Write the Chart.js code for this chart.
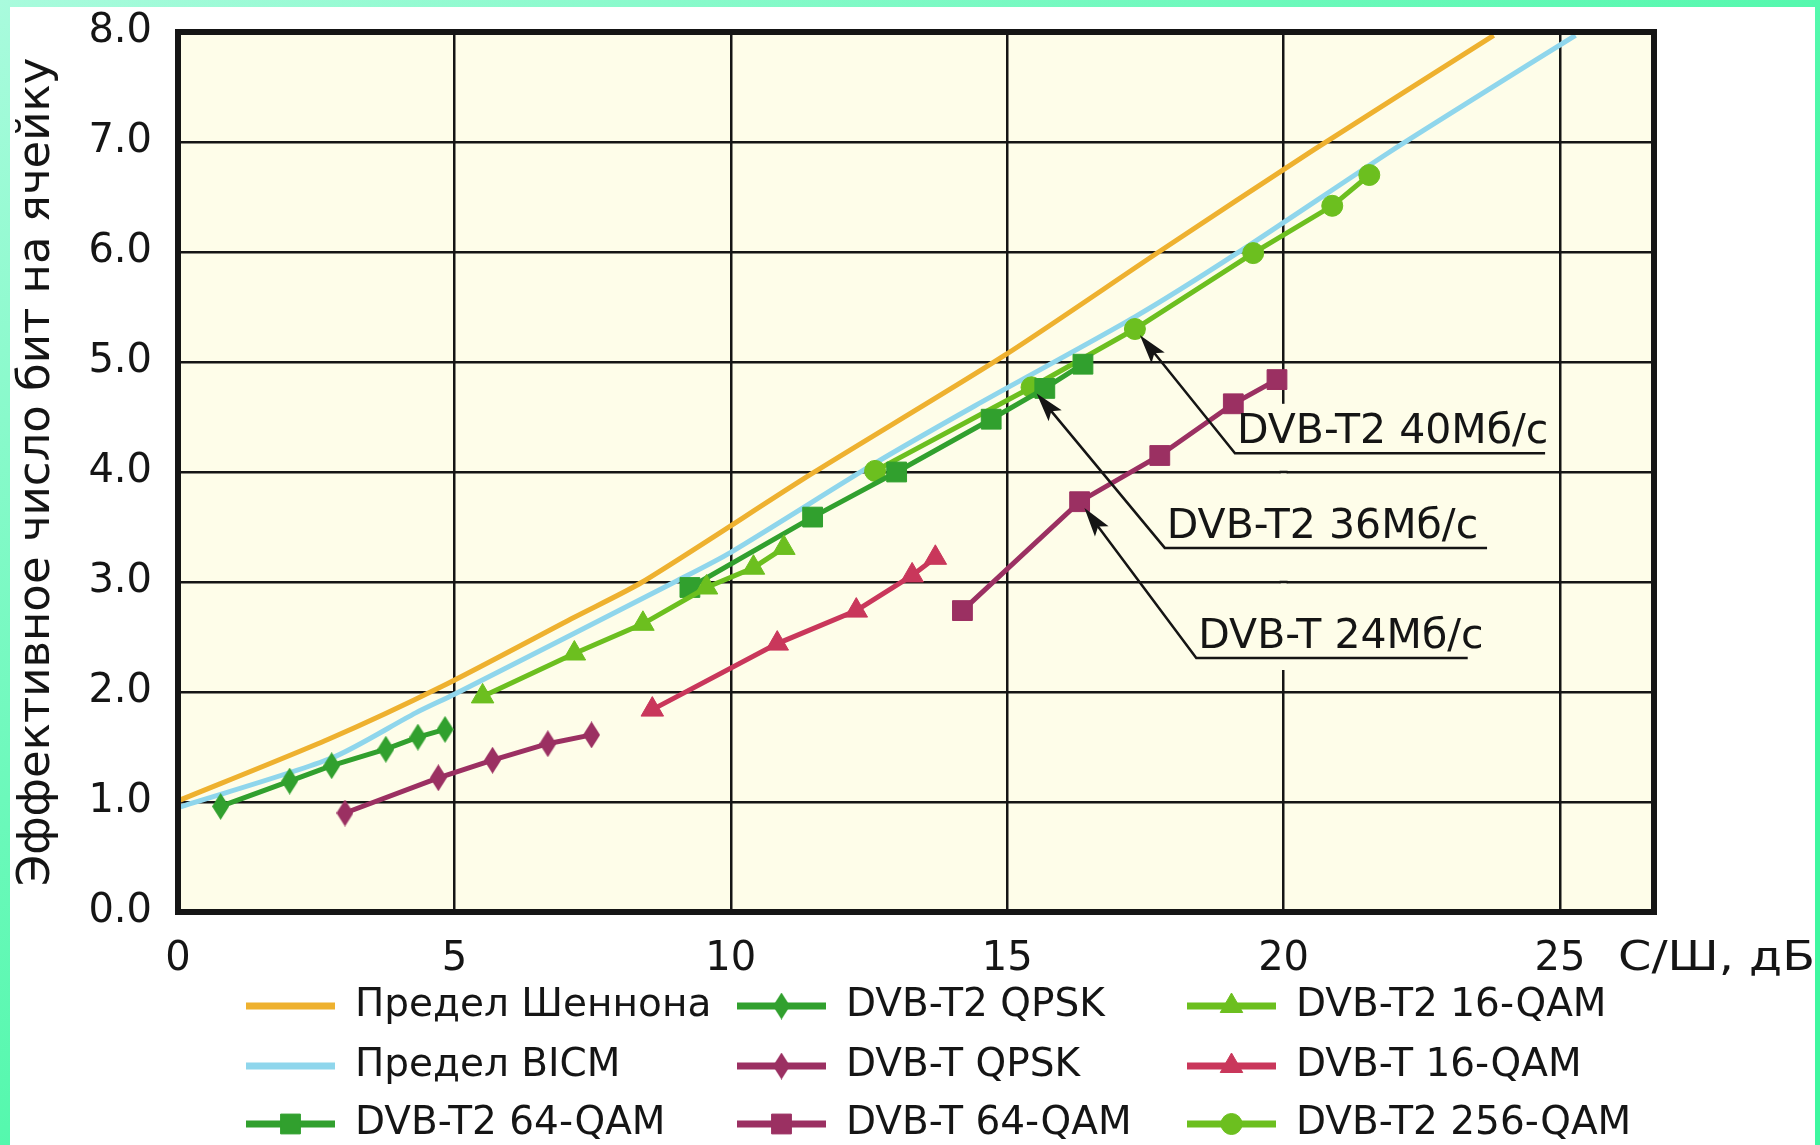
<!DOCTYPE html>
<html>
<head>
<meta charset="utf-8">
<script src="https://cdn.jsdelivr.net/npm/chart.js@4.4.1/dist/chart.umd.min.js"></script>
<style>
  html, body { margin: 0; padding: 0; }
  body {
    width: 1820px; height: 1145px; position: relative; overflow: hidden;
    background: linear-gradient(to bottom right, #a9fbdd 0%, #6cf9bb 35%, #3ef7a0 65%);
  }
  #panel { position: absolute; left: 10px; top: 7px; right: 5px; bottom: 0; background: #fff; }
  #chart { position: absolute; left: 0; top: 0; }
</style>
</head>
<body>
<div id="panel"></div>
<canvas id="chart" width="1820" height="1145"></canvas>
<script>
// values (x = С/Ш in dB, y = bits per cell)
var xTicks = [0, 5, 10, 15, 20, 25];
var yTicks = [0, 1, 2, 3, 4, 5, 6, 7, 8];

var shannonX = [0, 2.72, 4.77, 7.17, 8.4, 11.45, 14.95, 17.74, 20.55, 23.8];
var shannonY = [1.01, 1.57, 2.05, 2.68, 3.0, 3.98, 5.06, 6.0, 6.93, 7.97];
var bicmX = [0, 2.78, 4.3, 5, 9.02, 10, 12.61, 14.41, 17.31, 19.13, 21.89, 23.56, 25.28];
var bicmY = [0.95, 1.4, 1.81, 1.98, 3.01, 3.27, 4.08, 4.6, 5.41, 5.98, 6.9, 7.43, 7.97];
var t2QpskX = [0.77, 2.02, 2.78, 3.76, 4.34, 4.83];
var t2QpskY = [0.96, 1.19, 1.33, 1.48, 1.59, 1.66];
var tQpskX = [3.02, 4.71, 5.69, 6.69, 7.48];
var tQpskY = [0.9, 1.22, 1.38, 1.53, 1.61];
var t2Qam16X = [5.51, 7.17, 8.41, 9.56, 10.41, 10.96];
var t2Qam16Y = [1.96, 2.35, 2.62, 2.95, 3.13, 3.31];
var tQam16X = [8.58, 10.84, 12.27, 13.28, 13.7];
var tQam16Y = [1.84, 2.44, 2.74, 3.06, 3.22];
var t2Qam64X = [9.26, 11.48, 13.0, 14.71, 15.68, 16.37];
var t2Qam64Y = [2.95, 3.59, 4.0, 4.48, 4.76, 4.98];
var tQam64X = [14.19, 16.31, 17.76, 19.09, 19.88];
var tQam64Y = [2.74, 3.73, 4.15, 4.62, 4.84];
var t2Qam256X = [12.61, 15.44, 17.31, 19.45, 20.88, 21.55];
var t2Qam256Y = [4.01, 4.77, 5.3, 5.99, 6.42, 6.7];

var ink = '#151515';
var plotBg = '#fefde9';
var font = 'DejaVu Sans';

function pts(xs, ys) {
    return xs.map(function (x, i) { return { x: x, y: ys[i] }; });
}

// tall narrow diamond marker
function diamond(color, w, h) {
    var c = document.createElement('canvas');
    c.width = w; c.height = h;
    var g = c.getContext('2d');
    g.fillStyle = color;
    g.beginPath();
    g.moveTo(w / 2, 0); g.lineTo(w, h / 2); g.lineTo(w / 2, h); g.lineTo(0, h / 2);
    g.closePath();
    g.fill();
    return c;
}

function series(label, xs, ys, color, style, radius, order) {
    return {
        label: label,
        data: pts(xs, ys),
        borderColor: color,
        backgroundColor: color,
        borderWidth: 5,
        pointStyle: style || 'circle',
        pointRadius: style ? radius : 0,
        pointHoverRadius: style ? radius : 0,
        pointBackgroundColor: color,
        pointBorderColor: color,
        pointBorderWidth: 1,
        tension: style ? 0 : 0.25,
        order: order || 1
    };
}

var green = '#31a02e', lime = '#6cbf1f', plum = '#9b3062', rose = '#c9375b';

var datasets = [
    series('Предел Шеннона', shannonX, shannonY, '#eeb12f', null, 0, 10),
    series('Предел BICM', bicmX, bicmY, '#8fd6ec', null, 0, 9),
    series('DVB-T2 QPSK', t2QpskX, t2QpskY, green, diamond(green, 17, 27), 13),
    series('DVB-T QPSK', tQpskX, tQpskY, plum, diamond(plum, 17, 27), 13),
    series('DVB-T2 16-QAM', t2Qam16X, t2Qam16Y, lime, 'triangle', 13),
    series('DVB-T 16-QAM', tQam16X, tQam16Y, rose, 'triangle', 13),
    series('DVB-T2 64-QAM', t2Qam64X, t2Qam64Y, green, 'rect', 14),
    series('DVB-T 64-QAM', tQam64X, tQam64Y, plum, 'rect', 14),
    series('DVB-T2 256-QAM', t2Qam256X, t2Qam256Y, lime, 'circle', 10.5)
];

// callouts: arrow to a point of a series, elbow + underline in data units
var notes = [
    { text: 'DVB-T2 40Мб/с', series: 'DVB-T2 256-QAM', index: 2, elbow: [19.12, 4.17], end: 24.73 },
    { text: 'DVB-T2 36Мб/с', series: 'DVB-T2 256-QAM', index: 1, elbow: [17.85, 3.31], end: 23.68 },
    { text: 'DVB-T 24Мб/с', series: 'DVB-T 64-QAM', index: 1, elbow: [18.42, 2.31], end: 23.33 }
];

var legendCols = [246, 737, 1187];
var legendRows = [1006, 1066, 1124];
var legendGrid = [
    ['Предел Шеннона', 'DVB-T2 QPSK', 'DVB-T2 16-QAM'],
    ['Предел BICM', 'DVB-T QPSK', 'DVB-T 16-QAM'],
    ['DVB-T2 64-QAM', 'DVB-T 64-QAM', 'DVB-T2 256-QAM']
];

function findSet(chart, label) {
    var ds = chart.data.datasets;
    for (var i = 0; i < ds.length; i++) if (ds[i].label === label) return i;
    return -1;
}

var decor = {
    id: 'decor',
    beforeDraw: function (chart) {
        var a = chart.chartArea, ctx = chart.ctx;
        ctx.save();
        ctx.fillStyle = plotBg;
        ctx.fillRect(a.left, a.top, a.right - a.left, a.bottom - a.top);
        ctx.restore();
    },
    beforeDatasetsDraw: function (chart) {
        // the 20 dB grid line is interrupted behind the callouts
        var x = chart.scales.x, y = chart.scales.y, ctx = chart.ctx;
        var px = x.getPixelForValue(20);
        var top = y.getPixelForValue(4.62), bot = y.getPixelForValue(2.2);
        ctx.save();
        ctx.fillStyle = plotBg;
        ctx.fillRect(px - 3, top, 6, bot - top);
        ctx.strokeStyle = ink;
        ctx.lineWidth = 2.5;
        [3, 4].forEach(function (v) {
            var py = y.getPixelForValue(v);
            ctx.beginPath(); ctx.moveTo(px - 4, py); ctx.lineTo(px + 4, py); ctx.stroke();
        });
        ctx.restore();
    },
    afterDatasetsDraw: function (chart) {
        var a = chart.chartArea, ctx = chart.ctx;
        var xs = chart.scales.x, ys = chart.scales.y;
        ctx.save();

        // frame
        ctx.strokeStyle = ink;
        ctx.lineWidth = 6;
        ctx.strokeRect(a.left, a.top, a.right - a.left, a.bottom - a.top);

        // callouts
        ctx.lineWidth = 2.5;
        ctx.fillStyle = ink;
        ctx.font = '41px "' + font + '"';
        ctx.textBaseline = 'alphabetic';
        ctx.textAlign = 'left';
        notes.forEach(function (n) {
            var di = findSet(chart, n.series);
            var p = chart.getDatasetMeta(di).data[n.index];
            var ex = xs.getPixelForValue(n.elbow[0]), ey = ys.getPixelForValue(n.elbow[1]);
            var dx = p.x - ex, dy = p.y - ey, len = Math.sqrt(dx * dx + dy * dy);
            var ux = dx / len, uy = dy / len;
            var tx = p.x - ux * 8, ty = p.y - uy * 8;
            ctx.beginPath();
            ctx.moveTo(xs.getPixelForValue(n.end), ey);
            ctx.lineTo(ex, ey);
            ctx.lineTo(tx - ux * 20, ty - uy * 20);
            ctx.stroke();
            ctx.beginPath();
            ctx.moveTo(tx, ty);
            ctx.lineTo(tx - ux * 29 - uy * 8.5, ty - uy * 29 + ux * 8.5);
            ctx.lineTo(tx - ux * 23, ty - uy * 23);
            ctx.lineTo(tx - ux * 29 + uy * 8.5, ty - uy * 29 - ux * 8.5);
            ctx.closePath();
            ctx.fill();
            ctx.fillText(n.text, ex + 2, ey - 10);
        });

        // x axis title beside the last tick
        ctx.font = '40px "' + font + '"';
        ctx.textBaseline = 'middle';
        var t = 'С/Ш, дБ';
        var w = ctx.measureText(t).width;
        ctx.translate(xs.getPixelForValue(25) + 58, a.bottom + 24 + 24);
        ctx.scale(197 / w, 1);
        ctx.fillText(t, 0, 0);
        ctx.restore();

        // legend, 3 x 3
        ctx.save();
        ctx.font = '39px "' + font + '"';
        ctx.textBaseline = 'alphabetic';
        ctx.textAlign = 'left';
        legendGrid.forEach(function (row, r) {
            row.forEach(function (label, c) {
                var ds = chart.data.datasets[findSet(chart, label)];
                var x0 = legendCols[c], y0 = legendRows[r];
                ctx.strokeStyle = ds.borderColor;
                ctx.lineWidth = 7;
                ctx.beginPath(); ctx.moveTo(x0, y0); ctx.lineTo(x0 + 89, y0); ctx.stroke();
                if (ds.pointRadius > 0) {
                    ctx.fillStyle = ds.pointBackgroundColor;
                    ctx.strokeStyle = ds.pointBorderColor;
                    ctx.lineWidth = 1;
                    Chart.helpers.drawPoint(ctx, {
                        pointStyle: ds.pointStyle, radius: ds.pointRadius, rotation: 0, borderWidth: 1
                    }, x0 + 44.5, y0);
                }
                ctx.fillStyle = ink;
                ctx.fillText(label, x0 + 109, y0 + 10);
            });
        });
        ctx.restore();
    }
};

new Chart(document.getElementById('chart'), {
    type: 'line',
    data: { datasets: datasets },
    plugins: [decor],
    options: {
        responsive: false,
        animation: false,
        events: [],
        layout: { padding: { left: 0, top: 32, right: 166, bottom: 163 } },
        plugins: { legend: { display: false }, tooltip: { enabled: false } },
        scales: {
            x: {
                type: 'linear',
                min: 0,
                max: 26.7,
                afterFit: function (s) { s.height = 70; },
                afterBuildTicks: function (s) { s.ticks = xTicks.map(function (v) { return { value: v }; }); },
                grid: { color: ink, lineWidth: 2.5, drawTicks: false },
                border: { display: false },
                ticks: {
                    color: ink, padding: 24,
                    font: { family: font, size: 40 },
                    callback: function (v) { return String(v); }
                }
            },
            y: {
                type: 'linear',
                min: 0,
                max: 8,
                afterFit: function (s) { s.width = 178; s.paddingTop = 0; s.paddingBottom = 0; },
                afterBuildTicks: function (s) { s.ticks = yTicks.map(function (v) { return { value: v }; }); },
                grid: { color: ink, lineWidth: 2.5, drawTicks: false },
                border: { display: false },
                ticks: {
                    color: ink, padding: 26,
                    font: { family: font, size: 40 },
                    callback: function (v) { return v.toFixed(1); }
                },
                title: {
                    display: true,
                    text: 'Эффективное число бит на ячейку',
                    color: ink,
                    font: { family: font, size: 45 },
                    padding: { top: 10, bottom: 0 }
                }
            }
        }
    }
});
</script>
</body>
</html>
